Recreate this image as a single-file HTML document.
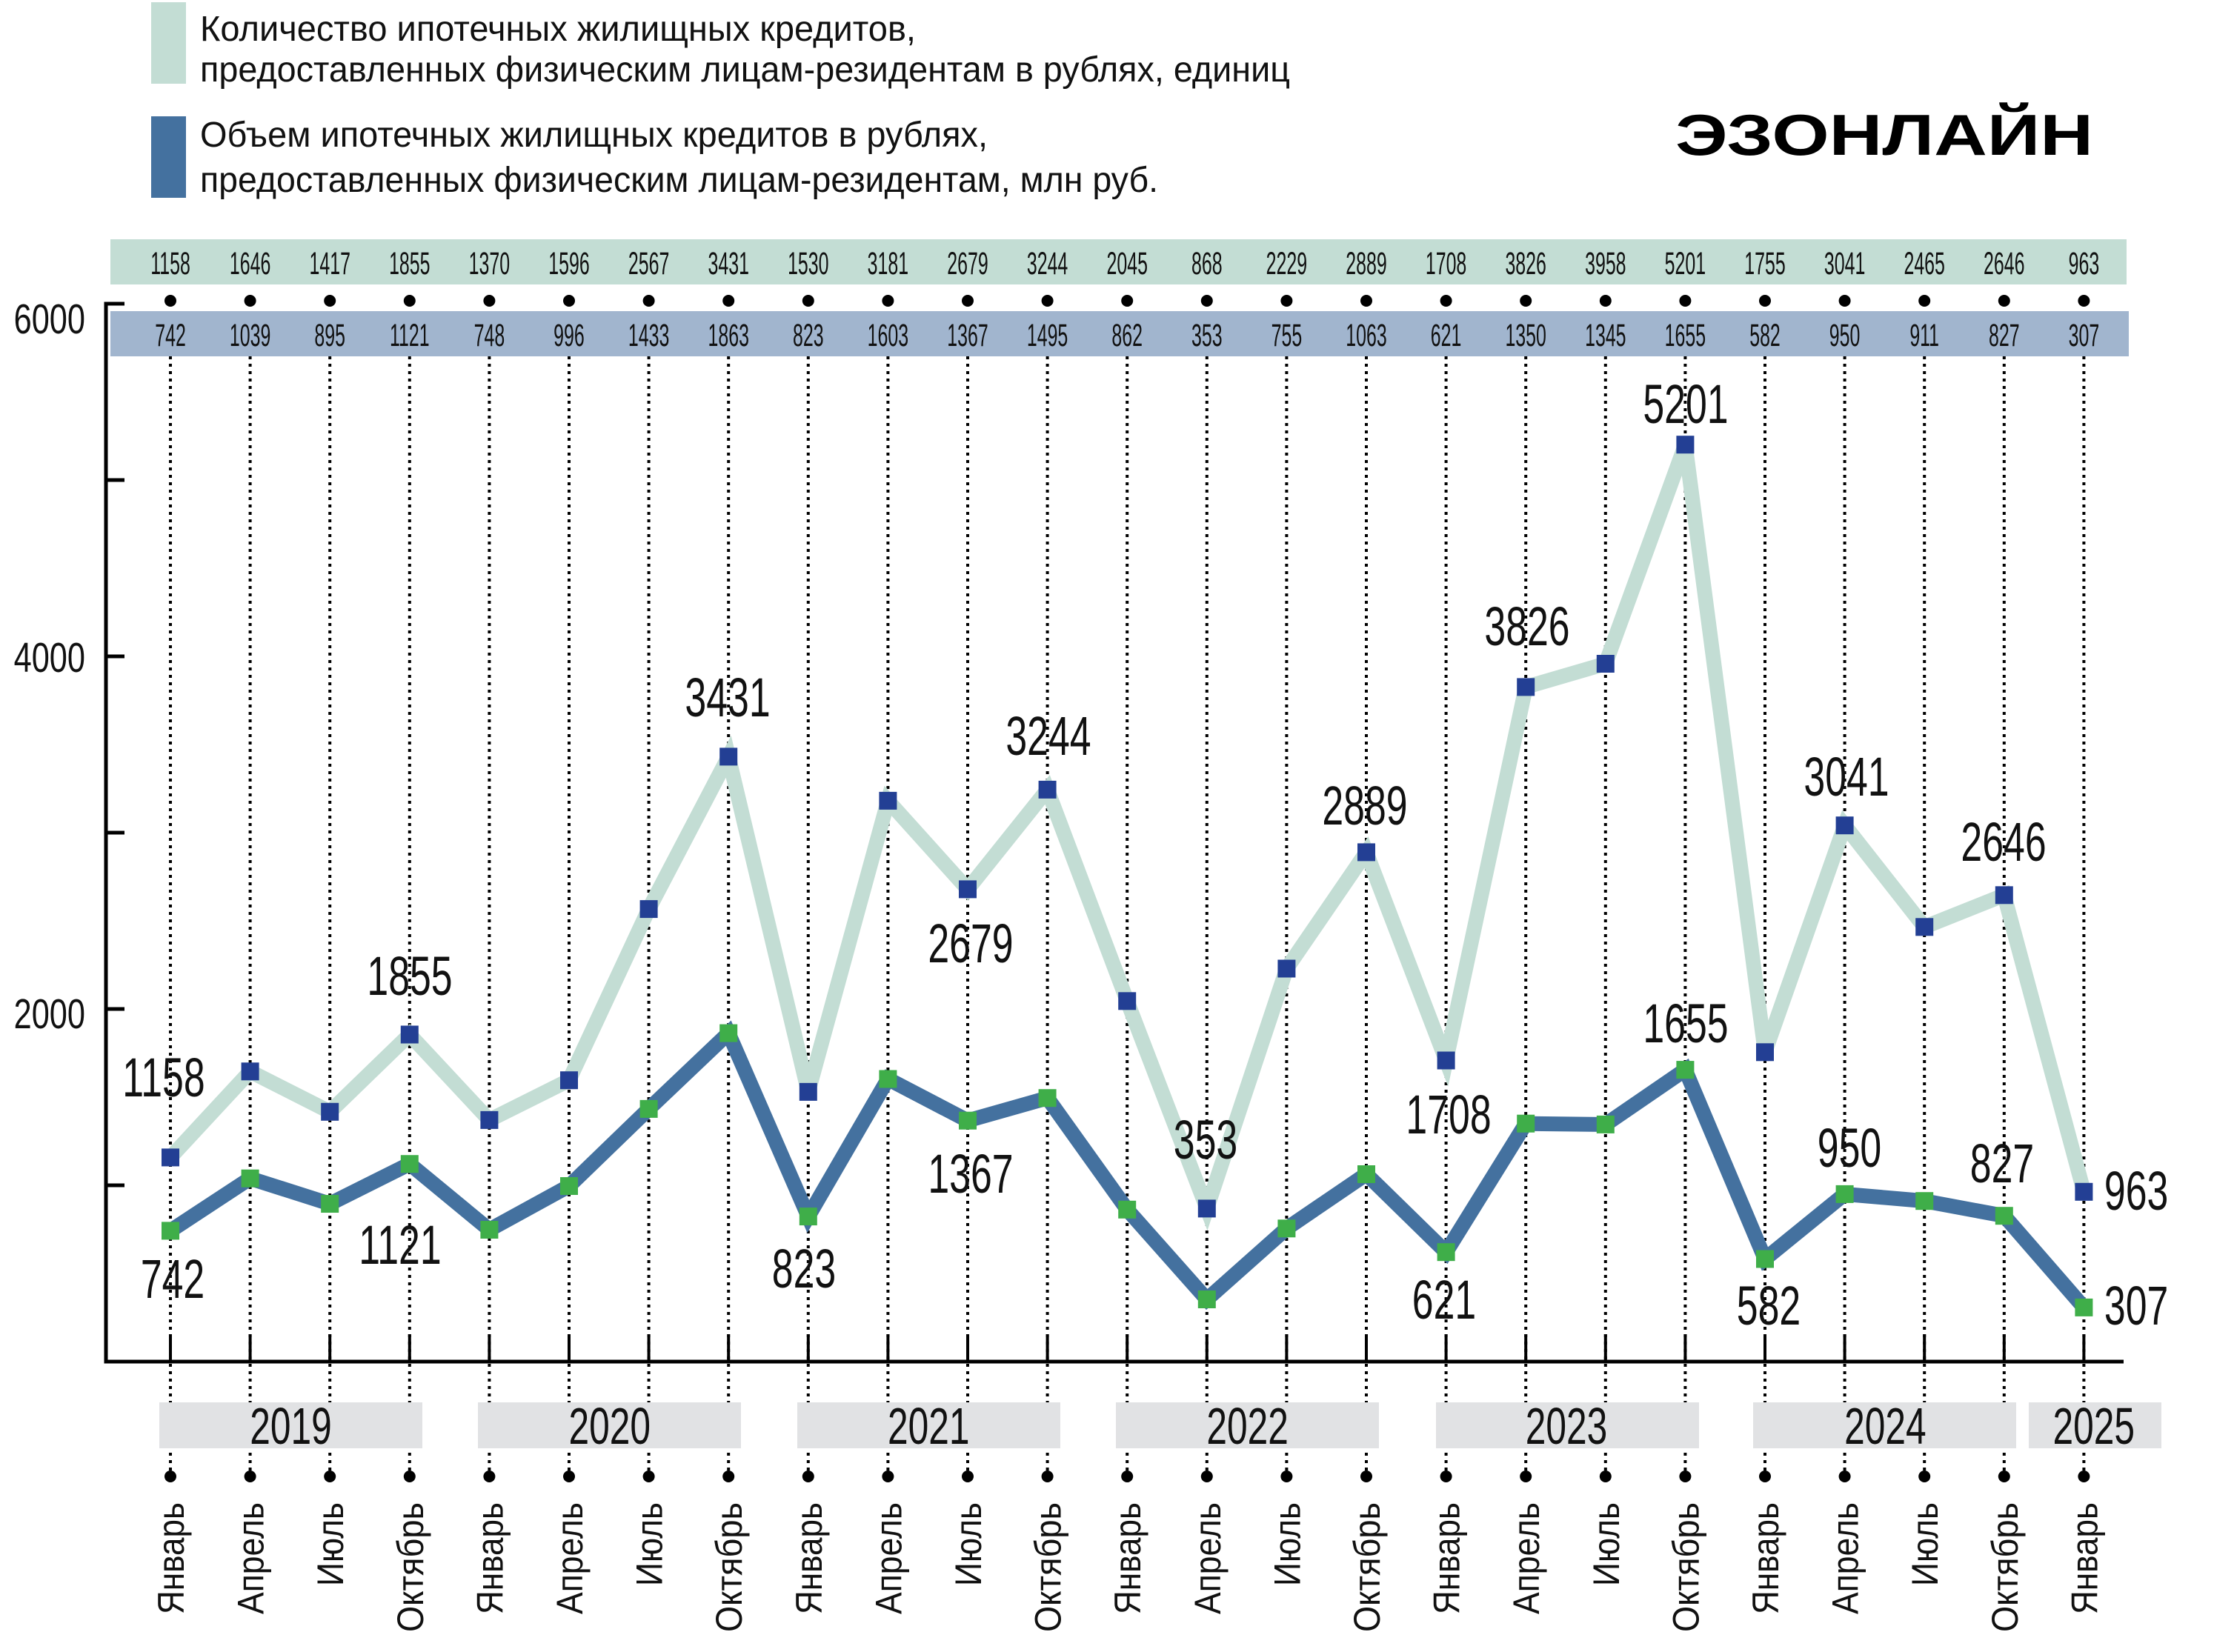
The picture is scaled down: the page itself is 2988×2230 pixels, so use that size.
<!DOCTYPE html>
<html><head><meta charset="utf-8"><style>
html,body{margin:0;padding:0;background:#fff;}
svg{display:block;font-family:"Liberation Sans","Noto Sans CJK SC",sans-serif;}
</style></head><body>
<svg width="2988" height="2230" viewBox="0 0 2988 2230" xmlns="http://www.w3.org/2000/svg">
<rect width="2988" height="2230" fill="#fff"/>
<!-- legend -->
<rect x="204" y="3" width="47" height="110" fill="#c3ddd4"/>
<rect x="204" y="157" width="47" height="110" fill="#44719f"/>
<g font-size="48" fill="#111">
<text x="270" y="55" textLength="966" lengthAdjust="spacingAndGlyphs">Количество ипотечных жилищных кредитов,</text>
<text x="270" y="110" textLength="1471" lengthAdjust="spacingAndGlyphs">предоставленных физическим лицам-резидентам в рублях, единиц</text>
<text x="270" y="198" textLength="1063" lengthAdjust="spacingAndGlyphs">Объем ипотечных жилищных кредитов в рублях,</text>
<text x="270" y="259" textLength="1293" lengthAdjust="spacingAndGlyphs">предоставленных физическим лицам-резидентам, млн руб.</text>
</g>
<text x="2261" y="209" font-size="78" font-weight="bold" fill="#000" textLength="564" lengthAdjust="spacingAndGlyphs">ЭЗОНЛАЙН</text>
<!-- bands -->
<rect x="149" y="323" width="2721" height="61" fill="#c3ddd4"/>
<rect x="149" y="420" width="2724" height="61" fill="#a1b5ce"/>
<!-- dotted verticals -->
<g stroke="#000" stroke-width="4" stroke-dasharray="4 6">
<path d="M230 481V1993M337.6 481V1993M445.2 481V1993M552.8 481V1993M660.4 481V1993M768 481V1993M875.6 481V1993M983.2 481V1993M1090.8 481V1993M1198.4 481V1993M1306 481V1993M1413.6 481V1993M1521.2 481V1993M1628.8 481V1993M1736.4 481V1993M1844 481V1993M1951.6 481V1993M2059.2 481V1993M2166.8 481V1993M2274.4 481V1993M2382 481V1993M2489.6 481V1993M2597.2 481V1993M2704.8 481V1993M2812.4 481V1993"/>
</g>
<!-- dots -->
<g fill="#000">
<circle cx="230" cy="406" r="8"/><circle cx="337.6" cy="406" r="8"/><circle cx="445.2" cy="406" r="8"/><circle cx="552.8" cy="406" r="8"/><circle cx="660.4" cy="406" r="8"/><circle cx="768" cy="406" r="8"/><circle cx="875.6" cy="406" r="8"/><circle cx="983.2" cy="406" r="8"/><circle cx="1090.8" cy="406" r="8"/><circle cx="1198.4" cy="406" r="8"/><circle cx="1306" cy="406" r="8"/><circle cx="1413.6" cy="406" r="8"/><circle cx="1521.2" cy="406" r="8"/><circle cx="1628.8" cy="406" r="8"/><circle cx="1736.4" cy="406" r="8"/><circle cx="1844" cy="406" r="8"/><circle cx="1951.6" cy="406" r="8"/><circle cx="2059.2" cy="406" r="8"/><circle cx="2166.8" cy="406" r="8"/><circle cx="2274.4" cy="406" r="8"/><circle cx="2382" cy="406" r="8"/><circle cx="2489.6" cy="406" r="8"/><circle cx="2597.2" cy="406" r="8"/><circle cx="2704.8" cy="406" r="8"/><circle cx="2812.4" cy="406" r="8"/>
<circle cx="230" cy="1993" r="8"/><circle cx="337.6" cy="1993" r="8"/><circle cx="445.2" cy="1993" r="8"/><circle cx="552.8" cy="1993" r="8"/><circle cx="660.4" cy="1993" r="8"/><circle cx="768" cy="1993" r="8"/><circle cx="875.6" cy="1993" r="8"/><circle cx="983.2" cy="1993" r="8"/><circle cx="1090.8" cy="1993" r="8"/><circle cx="1198.4" cy="1993" r="8"/><circle cx="1306" cy="1993" r="8"/><circle cx="1413.6" cy="1993" r="8"/><circle cx="1521.2" cy="1993" r="8"/><circle cx="1628.8" cy="1993" r="8"/><circle cx="1736.4" cy="1993" r="8"/><circle cx="1844" cy="1993" r="8"/><circle cx="1951.6" cy="1993" r="8"/><circle cx="2059.2" cy="1993" r="8"/><circle cx="2166.8" cy="1993" r="8"/><circle cx="2274.4" cy="1993" r="8"/><circle cx="2382" cy="1993" r="8"/><circle cx="2489.6" cy="1993" r="8"/><circle cx="2597.2" cy="1993" r="8"/><circle cx="2704.8" cy="1993" r="8"/><circle cx="2812.4" cy="1993" r="8"/>
</g>
<!-- band numbers -->
<g transform="scale(0.58,1)" font-size="43" text-anchor="middle" fill="#111">
<text x="396.6" y="370">1158</text><text x="582.1" y="370">1646</text><text x="767.6" y="370">1417</text><text x="953.1" y="370">1855</text><text x="1138.6" y="370">1370</text><text x="1324.1" y="370">1596</text><text x="1509.7" y="370">2567</text><text x="1695.2" y="370">3431</text><text x="1880.7" y="370">1530</text><text x="2066.2" y="370">3181</text><text x="2251.7" y="370">2679</text><text x="2437.2" y="370">3244</text><text x="2622.8" y="370">2045</text><text x="2808.3" y="370">868</text><text x="2993.8" y="370">2229</text><text x="3179.3" y="370">2889</text><text x="3364.8" y="370">1708</text><text x="3550.3" y="370">3826</text><text x="3735.9" y="370">3958</text><text x="3921.4" y="370">5201</text><text x="4106.9" y="370">1755</text><text x="4292.4" y="370">3041</text><text x="4477.9" y="370">2465</text><text x="4663.4" y="370">2646</text><text x="4849" y="370">963</text>
<text x="396.6" y="467">742</text><text x="582.1" y="467">1039</text><text x="767.6" y="467">895</text><text x="953.1" y="467">1121</text><text x="1138.6" y="467">748</text><text x="1324.1" y="467">996</text><text x="1509.7" y="467">1433</text><text x="1695.2" y="467">1863</text><text x="1880.7" y="467">823</text><text x="2066.2" y="467">1603</text><text x="2251.7" y="467">1367</text><text x="2437.2" y="467">1495</text><text x="2622.8" y="467">862</text><text x="2808.3" y="467">353</text><text x="2993.8" y="467">755</text><text x="3179.3" y="467">1063</text><text x="3364.8" y="467">621</text><text x="3550.3" y="467">1350</text><text x="3735.9" y="467">1345</text><text x="3921.4" y="467">1655</text><text x="4106.9" y="467">582</text><text x="4292.4" y="467">950</text><text x="4477.9" y="467">911</text><text x="4663.4" y="467">827</text><text x="4849" y="467">307</text>
</g>
<!-- axes -->
<g stroke="#000" stroke-width="5" fill="none">
<path d="M168 410H143V1838H2866"/>
<path d="M143 648H168M143 886H168M143 1124H168M143 1362H168M143 1600H168"/>
</g>
<g stroke="#000" stroke-width="4">
<path d="M230 1801V1838M337.6 1801V1838M445.2 1801V1838M552.8 1801V1838M660.4 1801V1838M768 1801V1838M875.6 1801V1838M983.2 1801V1838M1090.8 1801V1838M1198.4 1801V1838M1306 1801V1838M1413.6 1801V1838M1521.2 1801V1838M1628.8 1801V1838M1736.4 1801V1838M1844 1801V1838M1951.6 1801V1838M2059.2 1801V1838M2166.8 1801V1838M2274.4 1801V1838M2382 1801V1838M2489.6 1801V1838M2597.2 1801V1838M2704.8 1801V1838M2812.4 1801V1838"/>
</g>
<g transform="scale(0.76,1)" font-size="57" text-anchor="end" fill="#111">
<text x="151.3" y="450">6000</text><text x="151.3" y="907">4000</text><text x="151.3" y="1388">2000</text>
</g>
<!-- series -->
<polyline fill="none" stroke="#c3ddd4" stroke-width="20" stroke-linejoin="miter" points="230,1562.4 337.6,1446.3 445.2,1500.8 552.8,1396.5 660.4,1511.9 768,1458.2 875.6,1227.1 983.2,1021.4 1090.8,1473.9 1198.4,1080.9 1306,1200.4 1413.6,1065.9 1521.2,1351.3 1628.8,1631.4 1736.4,1307.5 1844,1150.4 1951.6,1431.5 2059.2,927.4 2166.8,896 2274.4,600.2 2382,1420.3 2489.6,1114.2 2597.2,1251.3 2704.8,1208.3 2812.4,1608.8"/>
<polyline fill="none" stroke="#44719f" stroke-width="20" stroke-linejoin="miter" points="230,1661.4 337.6,1590.7 445.2,1625 552.8,1571.2 660.4,1660 768,1601 875.6,1496.9 983.2,1394.6 1090.8,1642.1 1198.4,1456.5 1306,1512.7 1413.6,1482.2 1521.2,1632.8 1628.8,1754 1736.4,1658.3 1844,1585 1951.6,1690.2 2059.2,1516.7 2166.8,1517.9 2274.4,1444.1 2382,1699.5 2489.6,1611.9 2597.2,1621.2 2704.8,1641.2 2812.4,1764.9"/>
<g fill="#233f94">
<rect x="218" y="1550.4" width="24" height="24"/><rect x="325.6" y="1434.3" width="24" height="24"/><rect x="433.2" y="1488.8" width="24" height="24"/><rect x="540.8" y="1384.5" width="24" height="24"/><rect x="648.4" y="1499.9" width="24" height="24"/><rect x="756" y="1446.2" width="24" height="24"/><rect x="863.6" y="1215.1" width="24" height="24"/><rect x="971.2" y="1009.4" width="24" height="24"/><rect x="1078.8" y="1461.9" width="24" height="24"/><rect x="1186.4" y="1068.9" width="24" height="24"/><rect x="1294" y="1188.4" width="24" height="24"/><rect x="1401.6" y="1053.9" width="24" height="24"/><rect x="1509.2" y="1339.3" width="24" height="24"/><rect x="1616.8" y="1619.4" width="24" height="24"/><rect x="1724.4" y="1295.5" width="24" height="24"/><rect x="1832" y="1138.4" width="24" height="24"/><rect x="1939.6" y="1419.5" width="24" height="24"/><rect x="2047.2" y="915.4" width="24" height="24"/><rect x="2154.8" y="884" width="24" height="24"/><rect x="2262.4" y="588.2" width="24" height="24"/><rect x="2370" y="1408.3" width="24" height="24"/><rect x="2477.6" y="1102.2" width="24" height="24"/><rect x="2585.2" y="1239.3" width="24" height="24"/><rect x="2692.8" y="1196.3" width="24" height="24"/><rect x="2800.4" y="1596.8" width="24" height="24"/>
</g>
<g fill="#3fae49">
<rect x="218" y="1649.4" width="24" height="24"/><rect x="325.6" y="1578.7" width="24" height="24"/><rect x="433.2" y="1613" width="24" height="24"/><rect x="540.8" y="1559.2" width="24" height="24"/><rect x="648.4" y="1648" width="24" height="24"/><rect x="756" y="1589" width="24" height="24"/><rect x="863.6" y="1484.9" width="24" height="24"/><rect x="971.2" y="1382.6" width="24" height="24"/><rect x="1078.8" y="1630.1" width="24" height="24"/><rect x="1186.4" y="1444.5" width="24" height="24"/><rect x="1294" y="1500.7" width="24" height="24"/><rect x="1401.6" y="1470.2" width="24" height="24"/><rect x="1509.2" y="1620.8" width="24" height="24"/><rect x="1616.8" y="1742" width="24" height="24"/><rect x="1724.4" y="1646.3" width="24" height="24"/><rect x="1832" y="1573" width="24" height="24"/><rect x="1939.6" y="1678.2" width="24" height="24"/><rect x="2047.2" y="1504.7" width="24" height="24"/><rect x="2154.8" y="1505.9" width="24" height="24"/><rect x="2262.4" y="1432.1" width="24" height="24"/><rect x="2370" y="1687.5" width="24" height="24"/><rect x="2477.6" y="1599.9" width="24" height="24"/><rect x="2585.2" y="1609.2" width="24" height="24"/><rect x="2692.8" y="1629.2" width="24" height="24"/><rect x="2800.4" y="1752.9" width="24" height="24"/>
</g>
<!-- big labels -->
<g transform="scale(0.7,1)" font-size="74" text-anchor="middle" fill="#111">
<text x="315.7" y="1480">1158</text><text x="332.9" y="1752">742</text><text x="790" y="1343">1855</text><text x="771.4" y="1706">1121</text><text x="1402.9" y="967">3431</text><text x="1550" y="1738">823</text><text x="1871.4" y="1299">2679</text><text x="2021.4" y="1019">3244</text><text x="1871.4" y="1610">1367</text><text x="2324.3" y="1564">353</text><text x="2631.4" y="1113">2889</text><text x="2792.9" y="1530">1708</text><text x="2784.3" y="1780">621</text><text x="2944.3" y="871">3826</text><text x="3250" y="571">5201</text><text x="3250" y="1407">1655</text><text x="3560" y="1074">3041</text><text x="3410" y="1788">582</text><text x="3565.7" y="1575">950</text><text x="3862.9" y="1162">2646</text><text x="3860" y="1596">827</text>
<text x="4057" y="1633" text-anchor="start">963</text><text x="4057" y="1788" text-anchor="start">307</text>
</g>
<!-- year bands -->
<g fill="#e1e2e4">
<rect x="215" y="1893" width="355" height="62"/><rect x="645" y="1893" width="355" height="62"/><rect x="1076" y="1893" width="355" height="62"/><rect x="1506" y="1893" width="355" height="62"/><rect x="1938" y="1893" width="355" height="62"/><rect x="2366" y="1893" width="355" height="62"/><rect x="2738" y="1893" width="179" height="62"/>
</g>
<g transform="scale(0.71,1)" font-size="70" text-anchor="middle" fill="#111">
<text x="552.8" y="1949">2019</text><text x="1158.9" y="1949">2020</text><text x="1765.1" y="1949">2021</text><text x="2371.3" y="1949">2022</text><text x="2977.5" y="1949">2023</text><text x="3583.7" y="1949">2024</text><text x="3980" y="1949">2025</text>
</g>
<!-- month labels -->
<g font-size="50" text-anchor="end" fill="#111" lengthAdjust="spacingAndGlyphs">
<text transform="translate(248,2028) rotate(-90)" textLength="151" lengthAdjust="spacingAndGlyphs">Январь</text>
<text transform="translate(355.6,2028) rotate(-90)" textLength="151" lengthAdjust="spacingAndGlyphs">Апрель</text>
<text transform="translate(463.2,2028) rotate(-90)" textLength="113" lengthAdjust="spacingAndGlyphs">Июль</text>
<text transform="translate(570.8,2028) rotate(-90)" textLength="175" lengthAdjust="spacingAndGlyphs">Октябрь</text>
<text transform="translate(678.4,2028) rotate(-90)" textLength="151" lengthAdjust="spacingAndGlyphs">Январь</text>
<text transform="translate(786,2028) rotate(-90)" textLength="151" lengthAdjust="spacingAndGlyphs">Апрель</text>
<text transform="translate(893.6,2028) rotate(-90)" textLength="113" lengthAdjust="spacingAndGlyphs">Июль</text>
<text transform="translate(1001.2,2028) rotate(-90)" textLength="175" lengthAdjust="spacingAndGlyphs">Октябрь</text>
<text transform="translate(1108.8,2028) rotate(-90)" textLength="151" lengthAdjust="spacingAndGlyphs">Январь</text>
<text transform="translate(1216.4,2028) rotate(-90)" textLength="151" lengthAdjust="spacingAndGlyphs">Апрель</text>
<text transform="translate(1324,2028) rotate(-90)" textLength="113" lengthAdjust="spacingAndGlyphs">Июль</text>
<text transform="translate(1431.6,2028) rotate(-90)" textLength="175" lengthAdjust="spacingAndGlyphs">Октябрь</text>
<text transform="translate(1539.2,2028) rotate(-90)" textLength="151" lengthAdjust="spacingAndGlyphs">Январь</text>
<text transform="translate(1646.8,2028) rotate(-90)" textLength="151" lengthAdjust="spacingAndGlyphs">Апрель</text>
<text transform="translate(1754.4,2028) rotate(-90)" textLength="113" lengthAdjust="spacingAndGlyphs">Июль</text>
<text transform="translate(1862,2028) rotate(-90)" textLength="175" lengthAdjust="spacingAndGlyphs">Октябрь</text>
<text transform="translate(1969.6,2028) rotate(-90)" textLength="151" lengthAdjust="spacingAndGlyphs">Январь</text>
<text transform="translate(2077.2,2028) rotate(-90)" textLength="151" lengthAdjust="spacingAndGlyphs">Апрель</text>
<text transform="translate(2184.8,2028) rotate(-90)" textLength="113" lengthAdjust="spacingAndGlyphs">Июль</text>
<text transform="translate(2292.4,2028) rotate(-90)" textLength="175" lengthAdjust="spacingAndGlyphs">Октябрь</text>
<text transform="translate(2400,2028) rotate(-90)" textLength="151" lengthAdjust="spacingAndGlyphs">Январь</text>
<text transform="translate(2507.6,2028) rotate(-90)" textLength="151" lengthAdjust="spacingAndGlyphs">Апрель</text>
<text transform="translate(2615.2,2028) rotate(-90)" textLength="113" lengthAdjust="spacingAndGlyphs">Июль</text>
<text transform="translate(2722.8,2028) rotate(-90)" textLength="175" lengthAdjust="spacingAndGlyphs">Октябрь</text>
<text transform="translate(2830.4,2028) rotate(-90)" textLength="151" lengthAdjust="spacingAndGlyphs">Январь</text>
</g>
</svg>
</body></html>
